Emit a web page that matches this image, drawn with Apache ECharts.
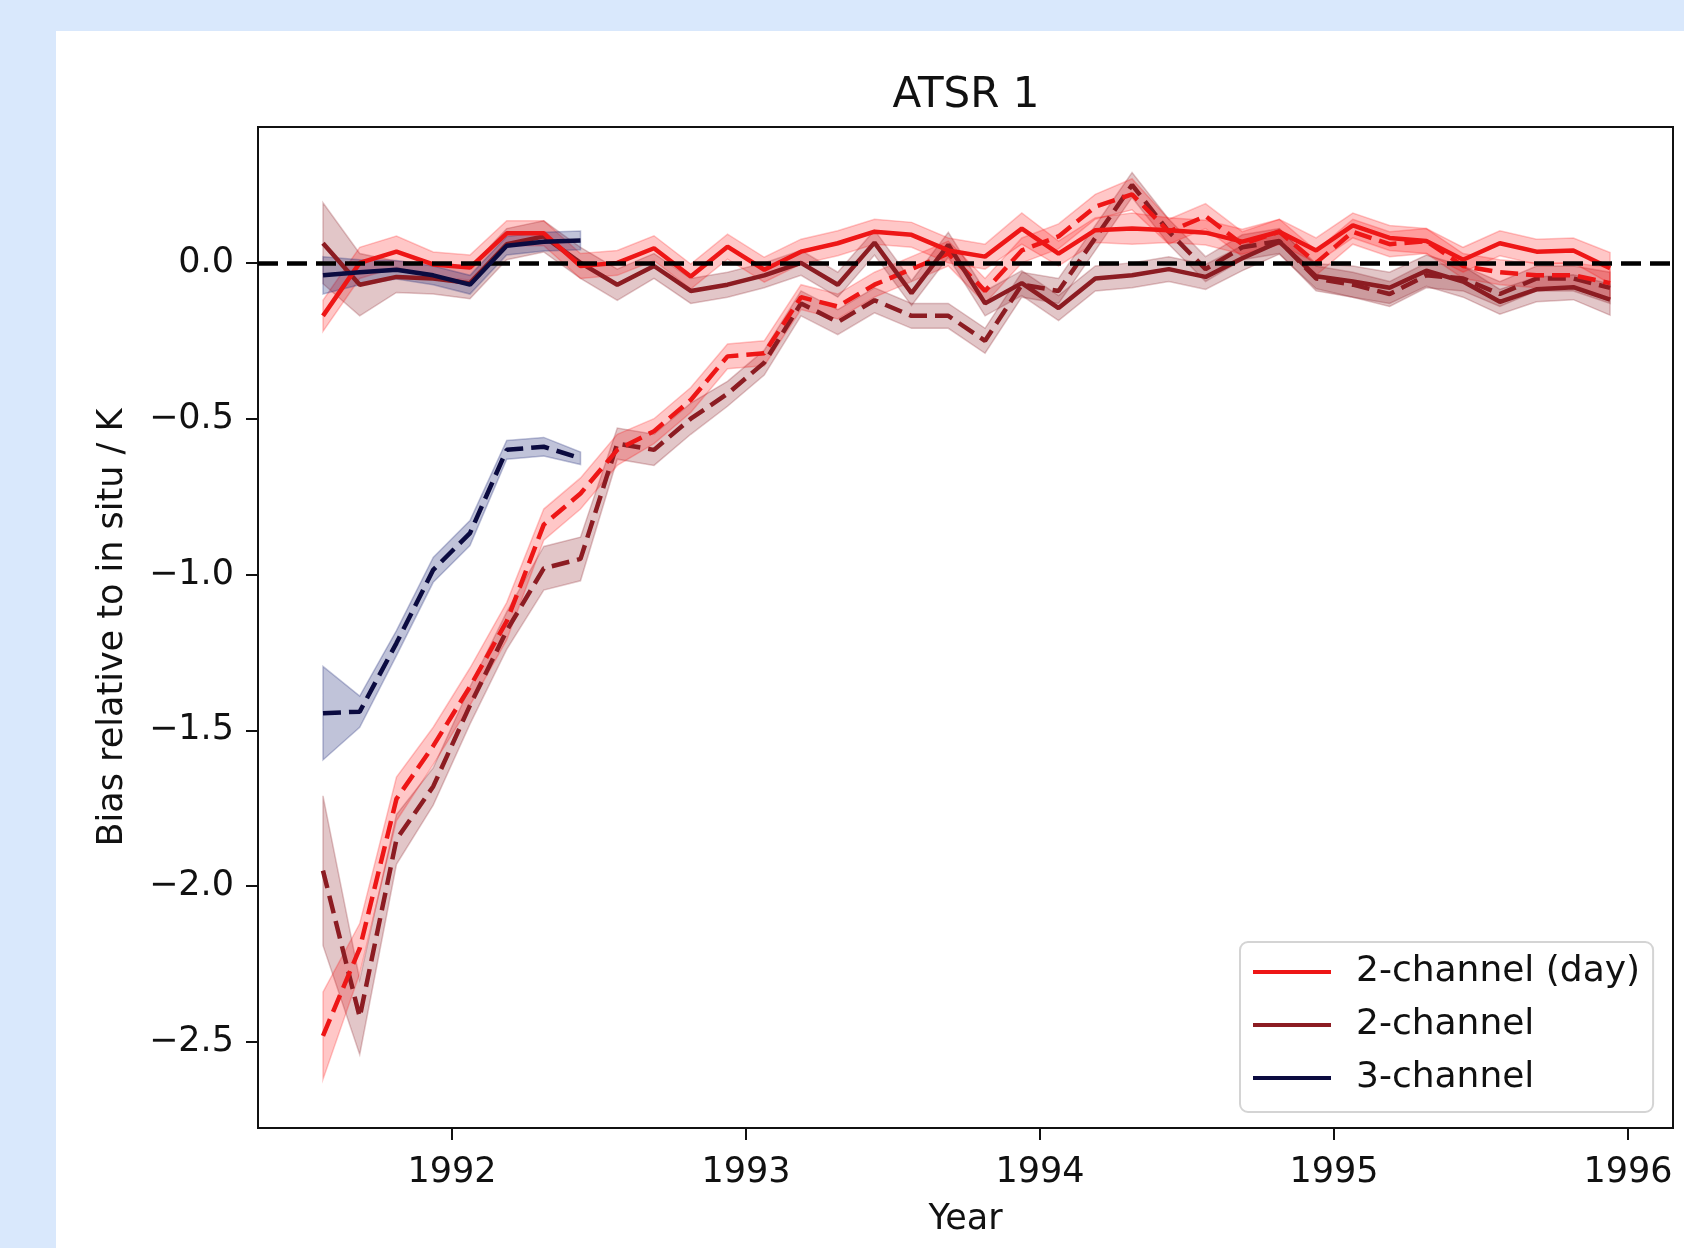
<!DOCTYPE html>
<html>
<head>
<meta charset="utf-8">
<title>ATSR 1</title>
<script src="https://cdn.jsdelivr.net/npm/echarts@6/dist/echarts.min.js"></script>
<style>
  html, body { margin: 0; padding: 0; }
  body { width: 1684px; height: 1248px; background: #d9e8fc; position: relative; overflow: hidden; }
  #panel { position: absolute; left: 56px; top: 31px; right: 0; bottom: 0; background: #ffffff; }
  #chart { position: absolute; left: 0; top: 0; width: 1684px; height: 1248px; }
</style>
</head>
<body>
<div id="panel"></div>
<div id="chart"></div>
<script>
// sample times (decimal years)
var years = [1991.561, 1991.686, 1991.811, 1991.936, 1992.061, 1992.186, 1992.312, 1992.437,
  1992.562, 1992.687, 1992.812, 1992.937, 1993.062, 1993.187, 1993.312, 1993.437,
  1993.563, 1993.688, 1993.813, 1993.938, 1994.063, 1994.188, 1994.313, 1994.438,
  1994.563, 1994.688, 1994.814, 1994.939, 1995.064, 1995.189, 1995.314, 1995.439,
  1995.564, 1995.689, 1995.814, 1995.939];

// 2-channel (day)
var dayMean = [-0.17, 0.0, 0.036, -0.005, -0.015, 0.095, 0.095, -0.01, 0.0, 0.047, -0.044, 0.052,
  -0.022, 0.036, 0.063, 0.1, 0.09, 0.04, 0.02, 0.11, 0.03, 0.105, 0.11, 0.105,
  0.097, 0.068, 0.1, 0.04, 0.12, 0.08, 0.07, 0.01, 0.063, 0.036, 0.04, -0.017];
var dayErr = [0.05, 0.05, 0.05, 0.04, 0.04, 0.04, 0.04, 0.04, 0.04, 0.04, 0.04, 0.04,
  0.04, 0.04, 0.04, 0.04, 0.04, 0.04, 0.04, 0.05, 0.04, 0.04, 0.05, 0.04,
  0.04, 0.04, 0.04, 0.04, 0.04, 0.04, 0.04, 0.04, 0.04, 0.04, 0.04, 0.05];
var dayDash = [-2.48, -2.2, -1.72, -1.55, -1.36, -1.15, -0.84, -0.74, -0.6, -0.54, -0.44, -0.3,
  -0.29, -0.11, -0.14, -0.07, -0.02, 0.03, -0.09, 0.04, 0.085, 0.18, 0.22, 0.1,
  0.15, 0.06, 0.1, 0.0, 0.1, 0.06, 0.07, -0.01, -0.03, -0.04, -0.04, -0.065];
var dayDashErr = [0.14, 0.08, 0.07, 0.06, 0.06, 0.06, 0.05, 0.05, 0.05, 0.04, 0.04, 0.04,
  0.04, 0.04, 0.04, 0.04, 0.04, 0.04, 0.04, 0.04, 0.04, 0.04, 0.05, 0.04,
  0.04, 0.04, 0.04, 0.04, 0.04, 0.04, 0.04, 0.04, 0.04, 0.04, 0.04, 0.05];

// 2-channel
var twoMean = [0.063, -0.07, -0.045, -0.05, -0.065, 0.06, 0.085, 0.0, -0.07, -0.01, -0.09, -0.07,
  -0.04, 0.0, -0.07, 0.065, -0.097, 0.058, -0.13, -0.065, -0.145, -0.05, -0.04, -0.02,
  -0.045, 0.015, 0.068, -0.043, -0.06, -0.08, -0.025, -0.06, -0.125, -0.085, -0.078, -0.118];
var twoErr = [0.13, 0.1, 0.05, 0.05, 0.05, 0.05, 0.05, 0.05, 0.05, 0.04, 0.04, 0.04,
  0.04, 0.04, 0.04, 0.04, 0.04, 0.04, 0.04, 0.04, 0.04, 0.04, 0.04, 0.04,
  0.04, 0.04, 0.04, 0.04, 0.05, 0.05, 0.05, 0.05, 0.04, 0.04, 0.04, 0.05];
var twoDash = [-1.95, -2.42, -1.85, -1.68, -1.42, -1.18, -0.98, -0.95, -0.58, -0.6, -0.5, -0.42,
  -0.32, -0.13, -0.19, -0.12, -0.17, -0.17, -0.25, -0.07, -0.09, 0.08, 0.25, 0.1,
  -0.02, 0.05, 0.07, -0.05, -0.07, -0.1, -0.04, -0.05, -0.1, -0.05, -0.05, -0.08];
var twoDashErr = [0.24, 0.12, 0.08, 0.06, 0.06, 0.06, 0.07, 0.07, 0.05, 0.05, 0.05, 0.04,
  0.04, 0.04, 0.04, 0.04, 0.04, 0.04, 0.04, 0.04, 0.04, 0.04, 0.04, 0.04,
  0.04, 0.04, 0.04, 0.04, 0.04, 0.04, 0.04, 0.04, 0.04, 0.04, 0.04, 0.05];

// 3-channel (first eight samples only)
var threeMean = [-0.04, -0.03, -0.022, -0.04, -0.07, 0.055, 0.068, 0.072];
var threeErr = [0.06, 0.04, 0.03, 0.03, 0.03, 0.03, 0.03, 0.03];
var threeDash = [-1.445, -1.44, -1.22, -0.985, -0.867, -0.6, -0.59, -0.627];
var threeDashErr = [0.15, 0.05, 0.04, 0.04, 0.04, 0.03, 0.03, 0.02];

var xTicks = [1992, 1993, 1994, 1995, 1996];
var yTicks = [-2.5, -2.0, -1.5, -1.0, -0.5, 0.0];

var RED = '#ee1616';
var DARKRED = '#8c1c22';
var NAVY = '#0b0b40';
var FONT = 'DejaVu Sans';

function pairs(vals) {
  return vals.map(function (v, i) { return [years[i], v]; });
}

function band(mean, err, fill) {
  return {
    type: 'custom',
    silent: true,
    z: 1,
    clip: true,
    data: [[years[0], mean[0]]],
    renderItem: function (params, api) {
      var upper = [], lower = [];
      for (var i = 0; i < mean.length; i++) {
        upper.push(api.coord([years[i], mean[i] + err[i]]));
        lower.unshift(api.coord([years[i], mean[i] - err[i]]));
      }
      return {
        type: 'polygon',
        shape: { points: upper.concat(lower) },
        style: { fill: fill, stroke: fill, lineWidth: 1.5 }
      };
    }
  };
}

function line(name, vals, color, dashed) {
  return {
    name: name,
    type: 'line',
    data: pairs(vals),
    showSymbol: false,
    symbol: 'none',
    silent: true,
    z: 3,
    color: color,
    lineStyle: { color: color, width: 4.5, type: dashed ? [18, 8] : 'solid', cap: 'butt' }
  };
}

var chart = echarts.init(document.getElementById('chart'), null, { renderer: 'canvas' });

// the black dashed zero reference rides on the 3-channel series
var threeSolid = line('3-channel', threeMean, NAVY, false);
threeSolid.z = 5;
threeSolid.markLine = {
  silent: true,
  symbol: 'none',
  label: { show: false },
  lineStyle: { color: '#000000', width: 4.5, type: [20, 9] },
  data: [{ yAxis: 0 }]
};

chart.setOption({
  animation: false,
  backgroundColor: 'transparent',
  title: {
    text: 'ATSR 1',
    left: 961,
    textAlign: 'center',
    top: 70,
    textStyle: { fontFamily: FONT, fontSize: 42, fontWeight: 'normal', color: '#111' }
  },
  grid: {
    left: 258, right: 11, top: 127, bottom: 120,
    show: true, borderColor: '#111', borderWidth: 2, backgroundColor: 'transparent'
  },
  legend: {
    data: ['2-channel (day)', '2-channel', '3-channel'],
    orient: 'vertical',
    left: 1240,
    top: 942,
    icon: 'rect',
    itemWidth: 78,
    itemHeight: 4,
    itemGap: 13,
    padding: [10, 13, 14, 13],
    backgroundColor: 'rgba(255,255,255,0.85)',
    borderColor: '#d4d4d4',
    borderWidth: 2,
    borderRadius: 8,
    selectedMode: false,
    textStyle: { fontFamily: FONT, fontSize: 36, color: '#111', lineHeight: 40, padding: [0, 0, 0, 20] }
  },
  xAxis: {
    type: 'value',
    min: 1991.34,
    max: 1996.153,
    name: 'Year',
    nameLocation: 'middle',
    nameGap: 74,
    nameTextStyle: { fontFamily: FONT, fontSize: 35, color: '#111' },
    axisLine: { show: true, onZero: false, lineStyle: { color: '#111', width: 2 } },
    axisTick: { show: true, length: 12, lineStyle: { color: '#111', width: 2 }, customValues: xTicks },
    axisLabel: {
      margin: 27, fontFamily: FONT, fontSize: 35, color: '#111',
      customValues: xTicks,
      formatter: function (v) { return String(Math.round(v)); }
    },
    splitLine: { show: false }
  },
  yAxis: {
    type: 'value',
    min: -2.776,
    max: 0.436,
    name: 'Bias relative to in situ / K',
    nameLocation: 'middle',
    nameRotate: 90,
    nameGap: 128,
    nameTextStyle: { fontFamily: FONT, fontSize: 35, color: '#111' },
    axisLine: { show: true, onZero: false, lineStyle: { color: '#111', width: 2 } },
    axisTick: { show: true, length: 12, lineStyle: { color: '#111', width: 2 }, customValues: yTicks },
    axisLabel: {
      margin: 24, fontFamily: FONT, fontSize: 35, color: '#111',
      customValues: yTicks,
      formatter: function (v) { return v.toFixed(1).replace('-', '\u2212'); }
    },
    splitLine: { show: false }
  },
  series: [
    band(twoDash, twoDashErr, 'rgba(140,28,34,0.25)'),
    band(dayDash, dayDashErr, 'rgba(255,0,0,0.22)'),
    band(twoMean, twoErr, 'rgba(140,28,34,0.25)'),
    band(dayMean, dayErr, 'rgba(255,0,0,0.22)'),
    band(threeDash, threeDashErr, 'rgba(30,40,120,0.28)'),
    band(threeMean, threeErr, 'rgba(30,40,120,0.28)'),
    line('2-channel dashed', twoDash, DARKRED, true),
    line('2-channel (day) dashed', dayDash, RED, true),
    line('2-channel', twoMean, DARKRED, false),
    line('2-channel (day)', dayMean, RED, false),
    line('3-channel dashed', threeDash, NAVY, true),
    threeSolid
  ]
});
</script>
</body>
</html>
